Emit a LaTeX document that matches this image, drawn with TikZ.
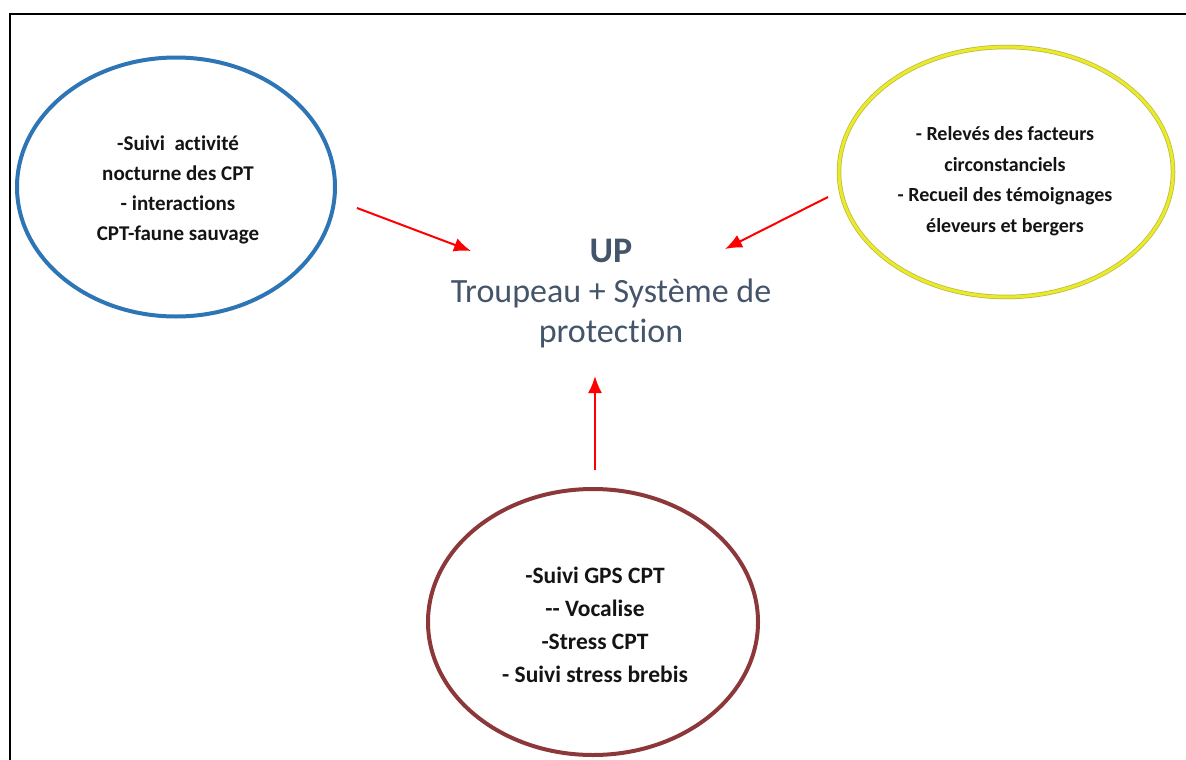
\documentclass[tikz,border=0pt]{standalone}
\usepackage{fontspec}
\setmainfont[Ligatures=NoCommon]{Carlito}
\usetikzlibrary{shapes.geometric,arrows.meta}
\definecolor{cblue}{HTML}{2E75B6}
\definecolor{cyellow}{RGB}{234,234,40}
\definecolor{cyedge}{RGB}{185,185,70}
\definecolor{cbrown}{RGB}{140,56,58}
\definecolor{ctitle}{HTML}{44546A}
\definecolor{ctext}{RGB}{20,20,20}
\tikzset{
  oval/.style={ellipse, draw, line width=4pt, inner sep=0pt},
  ovaltext/.style={align=center, text=ctext, inner sep=0pt},
  redarrow/.style={draw=red, line width=2pt, -{Latex[length=17pt,width=14pt]}},
  frameline/.style={line width=2.2pt, black}
}
\begin{document}
\begin{tikzpicture}[x=1pt,y=-1pt]
\useasboundingbox (0,0) rectangle (1186,760);
\coordinate (ftl) at (10,14);
\coordinate (ftr) at (1186,14);
\coordinate (fbl) at (10,760);
\draw[frameline] (ftr) -- (ftl) -- (fbl);

\node[oval, draw=cblue, minimum width=318pt, minimum height=259pt] (blue) at (176,187) {};
\node[ovaltext, font=\fontsize{21}{30}\selectfont\bfseries] (bluetext) at (178,190)
  {-Suivi\ \ activité\\nocturne des CPT\\- interactions\\CPT-faune sauvage};

\node[oval, draw=cyellow, line width=3pt, preaction={draw=cyedge, line width=4.5pt},
  minimum width=334pt, minimum height=250pt] (yellow) at (1006,172) {};
\node[ovaltext, font=\fontsize{20}{30.5}\selectfont\bfseries] (yellowtext) at (1005,181)
  {- Relevés des facteurs\\circonstanciels\\- Recueil des témoignages\\éleveurs et bergers};

\node[oval, draw=cbrown, minimum width=330pt, minimum height=266pt] (brown) at (593,622) {};
\node[ovaltext, font=\fontsize{23.5}{33}\selectfont\bfseries] (browntext) at (595,625)
  {-Suivi GPS CPT\\-{}- Vocalise\\-Stress CPT\\- Suivi stress brebis};

\node[align=center, text=ctitle, font=\fontsize{34}{40}\selectfont] (up) at (611,294)
  {{\fontsize{36}{40}\selectfont\bfseries UP}\\Troupeau + Système de\\protection};

\coordinate (a1s) at (357,208);
\coordinate (a1e) at (471,251);
\coordinate (a2s) at (828,197);
\coordinate (a2e) at (725,249);
\coordinate (a3s) at (595,470);
\coordinate (a3e) at (595,376);
\draw[redarrow] (a1s) -- (a1e);
\draw[redarrow] (a2s) -- (a2e);
\draw[redarrow] (a3s) -- (a3e);
\end{tikzpicture}
\end{document}
